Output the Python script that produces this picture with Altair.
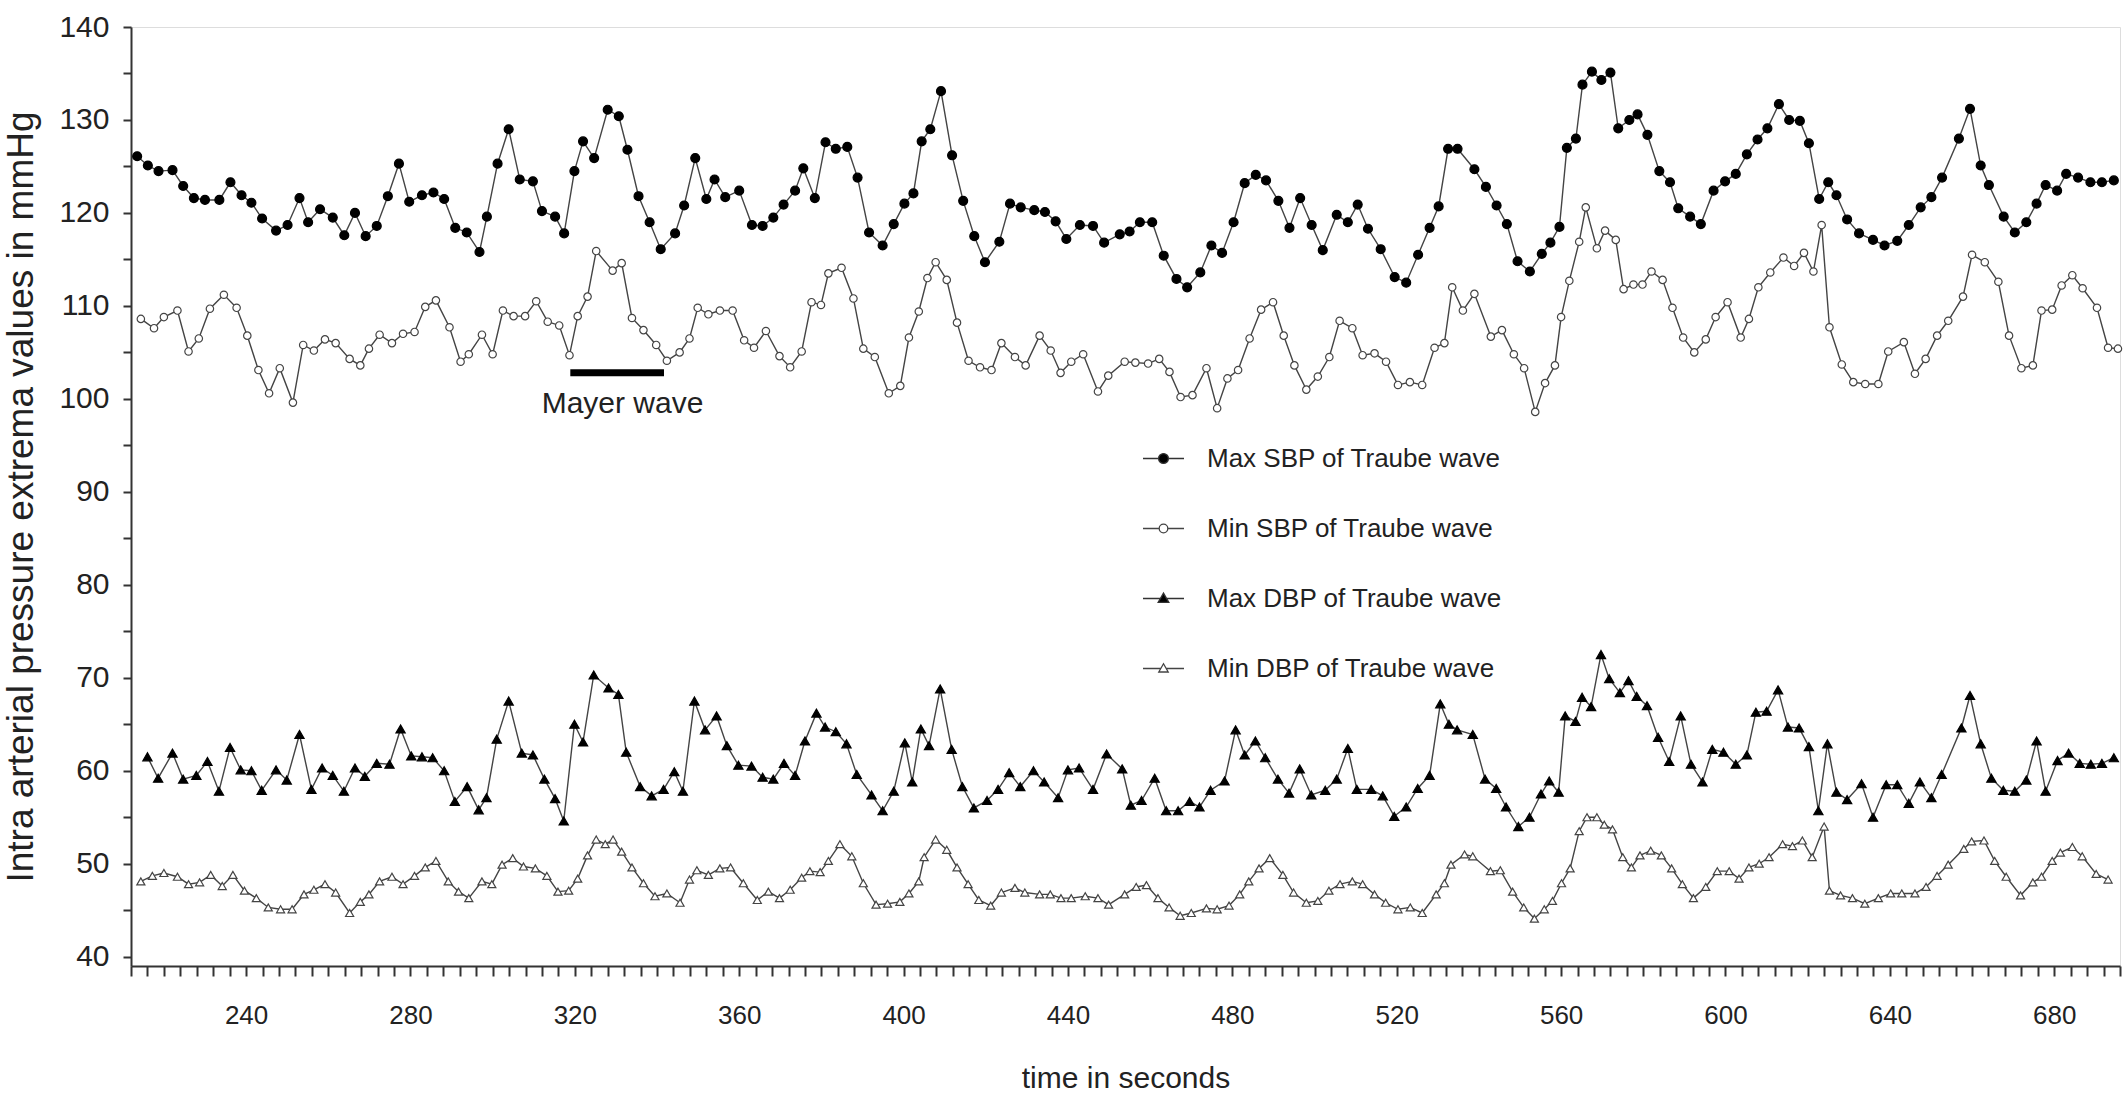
import altair as alt
import pandas as pd

# ---------------- data ----------------
max_sbp_t = [213.5,216.1,218.7,222.1,224.7,227.3,230.0,233.5,236.2,238.9,241.3,243.9,247.3,250.1,253.0,255.1,258.0,261.1,263.9,266.5,
             269.1,271.8,274.5,277.2,279.7,282.8,285.6,288.2,290.9,293.7,296.8,298.6,301.2,303.9,306.6,309.8,312.0,315.2,317.4,319.9,
             322.0,324.7,328.0,330.7,332.8,335.5,338.2,340.9,344.4,346.6,349.3,352.0,354.0,356.6,360.0,363.1,365.7,368.3,370.8,373.6,
             375.6,378.4,381.0,383.5,386.3,388.8,391.6,394.9,397.6,400.2,402.4,404.4,406.5,409.1,411.8,414.5,417.2,419.8,423.3,425.9,
             428.5,431.8,434.4,437.0,439.6,442.9,446.1,448.8,452.6,455.0,457.5,460.5,463.3,466.4,469.0,472.2,474.9,477.5,480.3,483.0,
             485.7,488.2,491.2,493.9,496.5,499.3,502.0,505.4,508.1,510.5,513.0,516.1,519.5,522.3,525.2,528.0,530.2,532.5,534.8,538.9,
             541.7,544.3,546.8,549.4,552.4,555.3,557.4,559.6,561.4,563.6,565.2,567.5,569.8,572.0,573.9,576.6,578.6,581.0,583.9,586.5,
             588.5,591.4,594.0,597.1,599.9,602.5,605.2,607.8,610.2,613.0,615.5,618.1,620.3,622.8,625.0,627.0,629.6,632.5,635.9,638.7,
             641.8,644.6,647.5,650.1,652.7,656.8,659.5,662.1,664.1,667.7,670.4,673.2,675.7,677.9,680.7,682.9,685.8,688.8,691.6,694.5]
max_sbp_v = [126.1,125.1,124.5,124.6,122.9,121.6,121.4,121.4,123.3,121.9,121.1,119.4,118.1,118.7,121.6,119.0,120.4,119.5,117.6,120.0,
             117.5,118.6,121.8,125.3,121.2,121.9,122.2,121.5,118.4,117.9,115.8,119.6,125.3,129.0,123.6,123.4,120.2,119.6,117.8,124.5,
             127.7,125.9,131.1,130.4,126.8,121.8,119.0,116.1,117.8,120.8,125.9,121.5,123.6,121.7,122.4,118.7,118.6,119.5,120.9,122.4,
             124.8,121.6,127.6,126.9,127.1,123.8,117.9,116.5,118.8,121.0,122.1,127.7,129.0,133.1,126.2,121.3,117.5,114.7,116.9,121.0,
             120.6,120.3,120.1,119.1,117.2,118.7,118.6,116.8,117.7,118.0,119.0,119.0,115.4,112.9,112.0,113.6,116.5,115.7,119.0,123.2,
             124.1,123.5,121.3,118.4,121.6,118.7,116.0,119.8,119.0,120.9,118.3,116.1,113.1,112.5,115.5,118.4,120.7,126.9,126.9,124.7,
             122.8,120.8,118.8,114.8,113.7,115.6,116.8,118.5,127.0,128.0,133.8,135.2,134.3,135.1,129.1,130.0,130.6,128.4,124.5,123.3,
             120.5,119.6,118.8,122.4,123.4,124.2,126.3,127.9,129.1,131.7,130.0,129.9,127.5,121.5,123.3,121.9,119.3,117.8,117.1,116.5,
             117.0,118.7,120.6,121.7,123.8,128.0,131.2,125.1,123.0,119.6,117.9,119.0,121.0,123.0,122.4,124.2,123.8,123.3,123.3,123.5]

min_sbp_t = [214.4,217.6,220.0,223.3,226.0,228.5,231.2,234.6,237.7,240.3,243.0,245.6,248.2,251.4,253.9,256.5,259.2,261.8,265.2,267.8,
             269.9,272.5,275.5,278.2,281.0,283.6,286.2,289.5,292.2,294.2,297.4,300.0,302.5,305.1,307.9,310.6,313.4,316.2,318.7,320.7,
             323.1,325.2,329.2,331.4,333.9,336.7,339.8,342.4,345.5,347.9,349.9,352.5,355.3,358.4,361.2,363.6,366.5,369.8,372.4,375.2,
             377.6,379.9,381.7,384.9,387.8,390.2,393.0,396.4,399.2,401.3,403.7,405.8,407.8,410.5,413.0,415.8,418.6,421.4,423.8,427.1,
             429.7,433.1,435.8,438.2,440.8,443.7,447.3,449.8,453.8,456.4,459.5,462.2,464.7,467.4,470.3,473.7,476.3,478.8,481.4,484.2,
             487.0,489.9,492.5,495.1,498.0,500.8,503.6,506.1,509.2,511.7,514.6,517.4,520.3,523.2,526.2,529.2,531.6,533.5,536.1,538.9,
             542.9,545.6,548.5,551.0,553.7,556.1,558.5,560.0,562.0,564.4,566.0,568.7,570.7,573.3,575.2,577.6,579.8,582.0,584.7,587.1,
             589.7,592.4,595.2,597.6,600.5,603.7,605.7,608.0,610.9,614.1,616.7,619.1,621.4,623.4,625.3,628.3,631.1,634.0,637.2,639.6,
             643.4,646.1,648.7,651.5,654.2,657.8,660.0,663.1,666.4,669.0,672.0,674.8,676.9,679.5,681.8,684.4,686.9,690.4,693.1,695.5]
min_sbp_v = [108.6,107.6,108.8,109.5,105.1,106.5,109.7,111.2,109.8,106.8,103.1,100.6,103.3,99.6,105.8,105.2,106.4,106.0,104.3,103.6,
             105.4,106.9,106.0,107.0,107.2,109.9,110.6,107.7,104.0,104.8,106.9,104.8,109.5,108.9,108.9,110.5,108.3,107.9,104.7,108.9,
             111.0,115.9,113.8,114.6,108.7,107.4,105.8,104.1,105.0,106.5,109.8,109.1,109.5,109.5,106.3,105.5,107.3,104.6,103.4,105.1,
             110.4,110.1,113.5,114.1,110.8,105.4,104.5,100.6,101.4,106.6,109.4,113.0,114.7,112.8,108.2,104.1,103.4,103.1,106.0,104.5,
             103.6,106.8,105.2,102.8,104.0,104.8,100.8,102.5,104.0,103.9,103.8,104.3,102.9,100.2,100.4,103.3,99.0,102.2,103.1,106.5,
             109.6,110.4,106.8,103.6,101.0,102.4,104.5,108.4,107.6,104.7,104.9,104.0,101.5,101.8,101.5,105.5,106.0,112.0,109.5,111.3,
             106.7,107.4,104.8,103.3,98.6,101.7,103.6,108.8,112.7,116.9,120.6,116.2,118.1,117.1,111.8,112.3,112.3,113.7,112.8,109.8,
             106.6,105.0,106.4,108.8,110.4,106.6,108.6,112.0,113.6,115.2,114.3,115.7,113.7,118.7,107.7,103.7,101.8,101.6,101.6,105.1,
             106.1,102.7,104.3,106.8,108.4,111.0,115.5,114.7,112.6,106.8,103.3,103.6,109.5,109.6,112.2,113.3,111.9,109.8,105.5,105.4]

max_dbp_t = [216.0,218.6,222.1,224.7,227.9,230.6,233.4,236.1,238.7,241.3,243.8,247.3,249.9,253.0,255.9,258.5,261.1,263.8,266.5,268.9,
             271.8,274.9,277.6,280.2,282.8,285.4,288.2,290.8,293.8,296.6,298.5,301.0,303.9,307.1,309.8,312.6,315.2,317.3,319.9,322.0,
             324.6,328.2,330.6,332.5,335.9,338.7,341.6,344.2,346.3,349.1,351.7,354.5,357.0,359.8,363.0,365.7,368.3,370.9,373.6,376.0,
             378.8,380.9,383.5,386.1,388.6,392.2,394.9,397.6,400.3,402.1,404.2,406.2,408.9,411.7,414.3,417.1,420.3,423.0,425.7,428.4,
             431.6,434.2,437.6,440.0,442.7,446.1,449.4,453.2,455.3,457.9,461.1,463.9,466.8,469.6,472.0,474.7,478.1,480.8,483.0,485.6,
             488.0,491.1,493.8,496.4,499.2,502.6,505.4,508.1,510.3,513.8,516.6,519.4,522.3,525.1,528.0,530.6,532.7,534.7,538.5,541.5,
             544.2,546.6,549.6,552.3,555.1,557.1,559.4,561.0,563.5,565.1,567.3,569.7,571.7,574.3,576.4,578.4,580.9,583.6,586.3,589.1,
             591.6,594.4,596.8,599.5,602.5,605.2,607.4,610.0,612.8,615.2,617.9,620.3,622.6,624.8,627.0,629.6,633.1,635.9,639.1,641.8,
             644.6,647.3,650.1,652.6,657.4,659.5,662.1,664.7,667.6,670.4,673.2,675.7,677.9,680.8,683.5,686.2,688.9,691.6,694.5]
max_dbp_v = [61.5,59.2,61.9,59.1,59.5,61.0,57.8,62.5,60.1,60.0,57.9,60.1,59.0,63.9,58.0,60.3,59.5,57.8,60.3,59.4,
             60.8,60.7,64.5,61.6,61.5,61.4,60.0,56.7,58.3,55.8,57.1,63.4,67.5,61.9,61.7,59.1,57.0,54.6,65.0,63.1,
             70.3,68.9,68.2,62.0,58.3,57.3,58.0,59.9,57.8,67.5,64.4,65.9,62.7,60.6,60.5,59.3,59.1,60.8,59.5,63.2,
             66.2,64.7,64.2,62.9,59.6,57.4,55.7,57.8,63.0,58.8,64.5,62.7,68.8,62.3,58.3,56.0,56.8,58.0,59.8,58.3,
             60.0,58.8,57.1,60.1,60.3,58.0,61.8,60.2,56.3,56.8,59.2,55.7,55.7,56.7,56.1,57.9,58.9,64.4,61.7,63.2,
             61.4,59.1,57.6,60.2,57.4,57.9,59.1,62.4,58.0,58.0,57.3,55.1,56.1,58.1,59.5,67.2,65.0,64.4,63.9,59.1,
             58.1,56.1,54.0,55.0,57.5,58.9,57.7,65.9,65.3,67.9,66.9,72.5,69.9,68.4,69.7,68.0,67.0,63.6,61.0,65.9,
             60.7,58.8,62.3,62.0,60.7,61.7,66.3,66.4,68.7,64.7,64.6,62.6,55.7,62.9,57.7,56.9,58.6,55.0,58.5,58.5,
             56.5,58.8,57.1,59.6,64.6,68.1,62.9,59.2,57.9,57.8,59.0,63.2,57.8,61.1,61.9,60.8,60.7,60.8,61.4]

min_dbp_t = [214.4,217.2,220.0,223.3,226.0,228.7,231.4,234.2,236.8,239.6,242.5,245.4,248.4,251.2,254.1,256.5,259.2,261.8,265.2,267.8,
             269.9,272.5,275.5,278.2,281.0,283.6,286.2,289.2,291.7,294.2,297.4,299.8,302.3,304.9,307.5,310.4,313.2,315.9,318.5,320.7,
             323.1,325.2,327.4,329.3,331.4,333.9,336.7,339.5,342.4,345.6,347.9,349.7,352.5,355.3,357.9,361.0,364.4,367.1,369.8,372.4,
             375.2,377.2,379.7,381.7,384.5,387.4,390.2,393.3,396.1,399.1,401.3,403.7,405.0,407.8,410.5,413.0,415.7,418.3,421.2,423.8,
             427.1,429.5,433.1,435.7,438.3,440.8,444.2,447.3,449.9,453.8,456.6,459.1,461.9,464.6,467.3,470.0,473.7,476.3,479.2,481.8,
             484.0,486.5,489.1,492.3,494.9,498.0,500.8,503.5,506.2,509.2,511.7,514.6,517.3,520.3,523.3,526.2,529.6,531.6,533.2,536.5,
             538.5,542.8,545.2,548.2,550.9,553.5,555.9,557.9,560.1,562.2,564.4,566.3,568.7,570.5,572.5,575.0,577.1,579.2,581.8,584.4,
             586.9,589.5,592.2,595.2,598.0,600.9,603.3,605.7,608.2,610.6,613.9,616.3,618.7,621.1,624.0,625.3,628.0,630.9,633.9,637.2,
             640.2,642.9,646.1,648.8,651.5,654.2,658.0,659.9,662.9,665.5,668.3,671.8,674.8,676.9,679.5,681.5,684.4,686.8,690.2,693.1]
min_dbp_v = [48.1,48.7,49.0,48.6,47.8,48.0,48.8,47.6,48.8,47.1,46.3,45.3,45.1,45.1,46.7,47.2,47.8,46.9,44.7,45.9,
             46.7,48.1,48.6,47.8,48.7,49.6,50.3,48.1,47.0,46.3,48.1,47.8,49.9,50.6,49.7,49.5,48.7,47.0,47.1,48.4,
             50.9,52.6,52.1,52.6,51.3,49.6,47.9,46.5,46.8,45.8,48.3,49.3,48.8,49.5,49.6,47.9,46.1,47.0,46.3,47.2,
             48.5,49.2,49.1,50.3,52.1,50.8,47.9,45.6,45.7,45.9,46.8,48.1,50.7,52.6,51.5,49.6,47.8,46.1,45.5,46.9,
             47.4,46.9,46.7,46.7,46.3,46.3,46.5,46.3,45.6,46.7,47.5,47.7,46.3,45.3,44.4,44.7,45.2,45.1,45.5,46.7,
             48.1,49.5,50.6,48.8,46.9,45.8,46.0,47.1,47.8,48.1,47.8,46.7,45.8,45.1,45.3,44.7,46.7,47.9,49.9,51.0,
             50.8,49.2,49.3,47.0,45.3,44.1,45.1,46.0,47.9,49.5,53.5,55.0,55.0,54.2,53.7,50.7,49.6,50.9,51.4,50.9,
             49.5,47.8,46.3,47.5,49.2,49.2,48.4,49.6,50.0,50.7,52.1,51.9,52.5,50.7,54.0,47.1,46.6,46.3,45.7,46.3,
             46.8,46.8,46.8,47.5,48.7,49.9,51.6,52.4,52.5,50.3,48.6,46.6,48.0,48.6,50.3,51.2,51.8,50.8,48.9,48.3]

series_names = ["Max SBP of Traube wave", "Min SBP of Traube wave",
                "Max DBP of Traube wave", "Min DBP of Traube wave"]

# annotation: Mayer wave bar and label (data units)
mayer_start = [318.9]
mayer_end = [341.7]
mayer_level = [102.8]
mayer_label = ["Mayer wave"]
mayer_label_t = [331.6]
mayer_label_v = [99.4]

# ---------------- tables ----------------
frames = []
for name, ts, vs in zip(series_names,
                        [max_sbp_t, min_sbp_t, max_dbp_t, min_dbp_t],
                        [max_sbp_v, min_sbp_v, max_dbp_v, min_dbp_v]):
    frames.append(pd.DataFrame({"t": ts, "v": vs, "series": name}))
df = pd.concat(frames, ignore_index=True)

bar_df = pd.DataFrame({"t1": mayer_start, "t2": mayer_end, "v": mayer_level})
lab_df = pd.DataFrame({"t": mayer_label_t, "v": mayer_label_v, "txt": mayer_label})
leg_df = pd.DataFrame({"series": series_names})

FONT = "Liberation Sans"
W, H = 1989, 939

xscale = alt.Scale(domain=[212, 696], nice=False, zero=False)
yscale = alt.Scale(domain=[39, 140], nice=False, zero=False)

x_axis = alt.Axis(values=list(range(212, 697, 4)), tickCount=500, format="d",
                  labelExpr="datum.value % 40 == 0 ? datum.label : ''",
                  title="time in seconds", grid=False,
                  tickSize=10, labelPadding=26, labelFontSize=26, labelFont=FONT,
                  labelColor="#222", titleFont=FONT, titleFontSize=30, titleFontWeight="normal",
                  titleColor="#222", titleY=112, titleBaseline="middle",
                  domainColor="#333", domainWidth=2, tickColor="#333", tickWidth=2,
                  labelFlush=False, labelOverlap=False)
y_axis = alt.Axis(values=list(range(40, 141, 5)), tickCount=500, format="d",
                  labelExpr="datum.value % 10 == 0 ? datum.label : ''",
                  title="Intra arterial pressure extrema values in mmHg", grid=False,
                  tickSize=8, labelPadding=14, labelFontSize=30, labelFont=FONT,
                  labelColor="#222", titleFont=FONT, titleFontSize=37, titleFontWeight="normal",
                  titleColor="#222", titleX=-110, titleBaseline="middle",
                  domainColor="#333", domainWidth=2, tickColor="#333", tickWidth=2,
                  labelFlush=False, labelOverlap=False)

base = alt.Chart(df)

lines = base.mark_line(color="#444", strokeWidth=1.4).encode(
    x=alt.X("t:Q", scale=xscale, axis=x_axis),
    y=alt.Y("v:Q", scale=yscale, axis=y_axis),
    detail="series:N",
)

def pts(name, shape, fill, stroke, size):
    return base.transform_filter(alt.datum.series == name).mark_point(
        shape=shape, filled=True, fill=fill, stroke=stroke, strokeWidth=1.2,
        size=size, opacity=1,
    ).encode(x=alt.X("t:Q", scale=xscale), y=alt.Y("v:Q", scale=yscale))

p1 = pts(series_names[0], "circle", "black", "black", 80)
p2 = pts(series_names[1], "circle", "white", "#444", 55)
p3 = pts(series_names[2], "triangle-up", "black", "black", 85)
p4 = pts(series_names[3], "triangle-up", "white", "#444", 65)

bar = alt.Chart(bar_df).mark_rule(color="black", strokeWidth=7).encode(
    x=alt.X("t1:Q", scale=xscale), x2="t2:Q", y=alt.Y("v:Q", scale=yscale))
lab = alt.Chart(lab_df).mark_text(font=FONT, fontSize=30, color="#222").encode(
    x=alt.X("t:Q", scale=xscale), y=alt.Y("v:Q", scale=yscale), text="txt:N")

# legend only (no marks drawn): line + marker symbols
circ_f = "M-1,0H-0.24M0.24,0H1M0.24,0A0.24,0.24,0,1,1,-0.24,0A0.24,0.24,0,1,1,0.24,0Z"
circ_o = "M-1,0H-0.21M0.21,0H1M0.21,0A0.21,0.21,0,1,1,-0.21,0A0.21,0.21,0,1,1,0.21,0Z"
tri_f = "M-1,0H-0.15M0.15,0H1M0,-0.26L0.26,0.19L-0.26,0.19Z"
tri_o = "M-1,0H-0.13M0.13,0H1M0,-0.23L0.23,0.17L-0.23,0.17Z"

legend = alt.Legend(orient="none", legendX=1011, legendY=410, title=None,
                    symbolSize=1681, symbolStrokeWidth=1.3, labelFont=FONT,
                    labelFontSize=26, labelColor="#222", labelOffset=22, rowPadding=35,
                    labelLimit=600)
leg = alt.Chart(leg_df).transform_filter("false").mark_point(opacity=1, strokeWidth=1.3).encode(
    shape=alt.Shape("series:N", scale=alt.Scale(domain=series_names, range=[circ_f, circ_o, tri_f, tri_o]),
                    legend=legend, sort=series_names),
    fill=alt.Fill("series:N", scale=alt.Scale(domain=series_names, range=["black", "white", "black", "white"]),
                  legend=legend, sort=series_names),
    stroke=alt.Stroke("series:N", scale=alt.Scale(domain=series_names, range=["#333", "#444", "#333", "#444"]),
                      legend=legend, sort=series_names),
)

chart = alt.layer(lines, p1, p2, p3, p4, bar, lab, leg).properties(
    width=W, height=H, autosize="none",
    padding={"left": 131, "top": 27, "right": 7, "bottom": 129},
).configure_view(stroke="transparent").configure(background="white")

chart.save("out.html", embed_options={"renderer": "svg", "actions": False})
